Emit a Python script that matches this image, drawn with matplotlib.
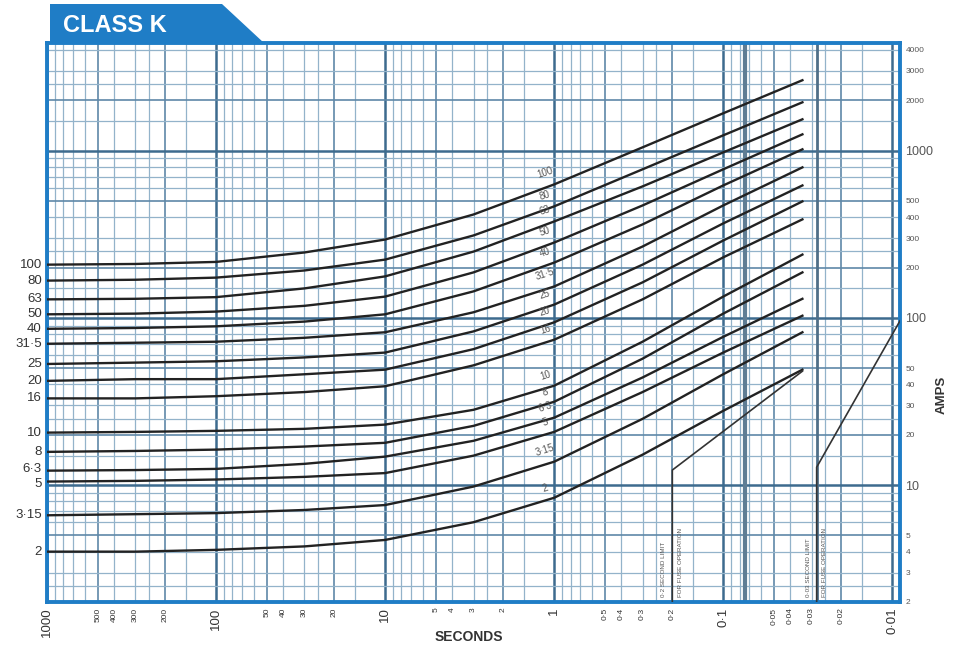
import numpy as np
import matplotlib.pyplot as plt
import matplotlib.transforms as mtransforms
from matplotlib.patches import Polygon

plt.rcParams['font.family'] = ['Liberation Sans', 'DejaVu Sans']

ratings = ['100', '80', '63', '50', '40', '31·5', '25', '20', '16',
           '10', '8', '6·3', '5', '3·15', '2']
times = [1000, 300, 100, 30, 10, 3, 1, 0.3, 0.1, 0.034]
amps = [
    [208, 210, 216, 246, 294, 415, 628, 1046, 1672, 2636],
    [167, 169, 174, 192, 223, 311, 464, 773, 1234, 1945],
    [129, 130, 133, 150, 177, 249, 377, 611, 976, 1539],
    [105, 106, 109, 118, 134, 187, 282, 470, 773, 1251],
    [86, 87, 89, 95, 105, 144, 214, 362, 619, 1018],
    [70, 71, 72, 76, 82, 108, 154, 267, 470, 794],
    [53, 54, 55, 58, 62, 83, 120, 208, 367, 619],
    [42, 43, 43, 46, 49, 65, 94, 163, 290, 497],
    [33, 33, 34, 36, 39, 52, 74, 129, 230, 388],
    [20.6, 20.8, 21.1, 21.7, 23.0, 28.2, 39.3, 72, 134, 239],
    [15.8, 16.0, 16.3, 17.0, 17.9, 22.6, 31.5, 57, 106, 187],
    [12.2, 12.3, 12.5, 13.4, 14.8, 18.4, 25.3, 44, 77, 130],
    [10.5, 10.6, 10.8, 11.2, 11.8, 15.0, 20.8, 36, 62, 103],
    [6.6, 6.7, 6.8, 7.1, 7.6, 9.8, 13.8, 24.9, 46, 82],
    [4.0, 4.0, 4.1, 4.3, 4.7, 6.0, 8.4, 15.2, 27.8, 49],
]

# the two limit lines (time s, current A)
limit1_t = [0.2, 0.2, 0.034]
limit1_a = [2, 12.3, 48]
limit2_t = [0.028, 0.028, 0.009]
limit2_a = [2, 12.8, 96]

x_ticks = [1000, 500, 400, 300, 200, 100, 50, 40, 30, 20, 10, 5, 4, 3, 2, 1,
           0.5, 0.4, 0.3, 0.2, 0.1, 0.05, 0.04, 0.03, 0.02, 0.01]
x_labels = ['1000', '500', '400', '300', '200', '100', '50', '40', '30', '20',
            '10', '5', '4', '3', '2', '1', '0·5', '0·4', '0·3', '0·2', '0·1',
            '0·05', '0·04', '0·03', '0·02', '0·01']
y_ticks = [2, 3, 4, 5, 10, 20, 30, 40, 50, 100, 200, 300, 400, 500,
           1000, 2000, 3000, 4000]

BLUE = '#1f7dc6'

fig = plt.figure(figsize=(9.58, 6.57), dpi=100)
W, H = 958, 657
ax = fig.add_axes([47 / W, 55 / H, 853 / W, 559 / H])
ax.set_xscale('log')
ax.set_yscale('log')
ax.set_xlim(1000, 0.009)
ax.set_ylim(2, 4400)

# log paper grid
mults = [1, 1.5, 2, 2.5, 3, 4, 5, 6, 7, 8, 9]
def grid_style(m):
    if m == 1:
        return dict(color='#3d6b8e', lw=1.8)
    if m in (2, 5):
        return dict(color='#5f88a8', lw=1.2)
    return dict(color='#93b3ca', lw=0.9)

for k in range(-3, 4):
    for m in mults:
        t = m * 10.0 ** k
        if 0.009 <= t <= 1000:
            ax.axvline(t, zorder=1, **grid_style(m))
for k in range(0, 4):
    for m in mults:
        a = m * 10.0 ** k
        if 2 <= a <= 4400:
            ax.axhline(a, zorder=1, **grid_style(m))
ax.axvline(0.074, color='#5f7d94', lw=3, zorder=1)
ax.axvline(0.028, color='#4f6f88', lw=2, zorder=1)

# melting curves
for r, a in zip(ratings, amps):
    ax.plot(times, a, color='#222', lw=1.7, zorder=3)
    ax.annotate(r, xy=(1.13, a[6]), xytext=(0, 3), textcoords='offset points',
                fontsize=7, color='#555', rotation=18, ha='center',
                va='bottom', zorder=4)

left_tr = mtransforms.blended_transform_factory(ax.transAxes, ax.transData)
nudge = {'6·3': 1.5, '5': -1.5}
for r, a in zip(ratings, amps):
    ax.annotate(r, xy=(-0.006, a[0]), xycoords=left_tr,
                xytext=(0, nudge.get(r, 0)), textcoords='offset points',
                ha='right', va='center', fontsize=9.5, color='#333',
                annotation_clip=False)

# limit lines with their notes
ax.plot(limit1_t, limit1_a, color='#333', lw=1.2, zorder=3)
ax.plot(limit2_t, limit2_a, color='#333', lw=1.2, zorder=3)
note_kw = dict(rotation=90, fontsize=4.5, color='#555', ha='center',
               va='bottom', zorder=4)
ax.text(0.225, 2.15, '0·2 SECOND LIMIT', **note_kw)
ax.text(0.178, 2.15, 'FOR FUSE OPERATION', **note_kw)
ax.text(0.0315, 2.15, '0·03 SECOND LIMIT', **note_kw)
ax.text(0.025, 2.15, 'FOR FUSE OPERATION', **note_kw)

# ticks
ax.set_xticks(x_ticks)
ax.set_xticklabels(x_labels, rotation=90, color='#333')
ax.xaxis.set_minor_locator(plt.NullLocator())
for t, lab in zip(x_ticks, ax.get_xticklabels()):
    lab.set_fontsize(9.5 if np.isclose(np.log10(t), round(np.log10(t))) else 6)
ax.yaxis.tick_right()
ax.set_yticks(y_ticks)
ax.set_yticklabels([str(v) for v in y_ticks], color='#555')
ax.yaxis.set_minor_locator(plt.NullLocator())
for v, lab in zip(y_ticks, ax.get_yticklabels()):
    lab.set_fontsize(9 if v in (10, 100, 1000) else 6)
ax.tick_params(axis='both', length=0, pad=4)

for s in ax.spines.values():
    s.set_color(BLUE)
    s.set_linewidth(2.8)

# title tab
tab = Polygon([(50 / W, 1 - 43 / H), (50 / W, 1 - 4 / H), (222 / W, 1 - 4 / H),
               (264 / W, 1 - 43 / H)], closed=True, transform=fig.transFigure,
              facecolor=BLUE, edgecolor='none')
fig.patches.append(tab)
fig.text(63 / W, 1 - 25 / H, 'CLASS K', color='white', fontsize=17,
         fontweight='bold', ha='left', va='center')

fig.text(469 / W, 1 - 637 / H, 'SECONDS', fontsize=10, fontweight='bold',
         color='#333', ha='center', va='center')
fig.text(942 / W, 1 - 395 / H, 'AMPS', fontsize=9.5, fontweight='bold',
         color='#333', rotation=90, ha='center', va='center')

fig.savefig('out.png', dpi=100)
